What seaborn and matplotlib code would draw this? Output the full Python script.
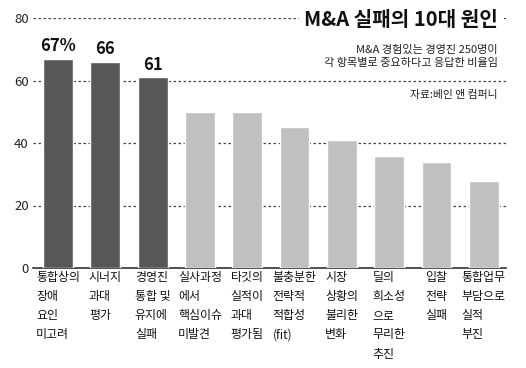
import matplotlib
matplotlib.use("Agg")
import matplotlib.pyplot as plt
import seaborn as sns

categories = [
    "통합상의\n장애\n요인\n미고려",
    "시너지\n과대\n평가",
    "경영진\n통합 및\n유지에\n실패",
    "실사과정\n에서\n핵심이슈\n미발견",
    "타깃의\n실적이\n과대\n평가됨",
    "불충분한\n전략적\n적합성\n(fit)",
    "시장\n상황의\n불리한\n변화",
    "딜의\n희소성\n으로\n무리한\n추진",
    "입찰\n전략\n실패",
    "통합업무\n부담으로\n실적\n부진",
]
values = [67, 66, 61, 50, 50, 45, 41, 36, 34, 28]
top_labels = ["67%", "66", "61"]
yticks = [0, 20, 40, 60, 80]

dark = "#575757"
light = "#c0c0c0"
colors = [dark] * 3 + [light] * 7

sns.set_style("white")
plt.rcParams["font.family"] = ["Noto Sans CJK KR", "DejaVu Sans"]

fig = plt.figure(figsize=(5.26, 3.68), dpi=100)
ax = fig.add_axes([33 / 526, 1 - 268 / 368, (506 - 33) / 526, 250 / 368])

xs = list(range(len(values)))
sns.barplot(x=xs, y=values, hue=xs, palette=colors, legend=False,
            width=0.63, saturation=1, ax=ax, zorder=3)

ax.set_xlim(-0.53, 9.47)
ax.set_ylim(0, 80)
ax.set_yticks(yticks)
ax.set_yticklabels([str(t) for t in yticks], fontsize=9.5, color="#222222")
ax.yaxis.grid(True, linestyle=(0, (2, 2)), color="#444444", linewidth=0.9, zorder=0)
ax.xaxis.grid(False)
ax.set_axisbelow(True)
ax.tick_params(axis="y", length=0, pad=3)
ax.tick_params(axis="x", length=0, pad=2)
ax.set_xticks(xs)
ax.set_xticklabels(categories, fontsize=8.6, ha="center", va="top",
                   multialignment="left", linespacing=1.62, color="#111111")
ax.set_xlabel("")
ax.set_ylabel("")

for s in ["left", "right", "top"]:
    ax.spines[s].set_visible(False)
ax.spines["bottom"].set_color("#333333")
ax.spines["bottom"].set_linewidth(1.2)

for i, lab in enumerate(top_labels):
    ax.text(i, values[i] + 1.2, lab, ha="center", va="bottom",
            fontsize=12, fontweight="bold", color="#111111")

fig.text(498 / 526, 1 - 20 / 368, "M&A 실패의 10대 원인", ha="right", va="center",
         fontsize=14.5, fontweight="bold", color="#111111",
         bbox=dict(facecolor="white", edgecolor="none", pad=4))
fig.text(498 / 526, 1 - 45 / 368,
         "M&A 경험있는 경영진 250명이\n각 항목별로 중요하다고 응답한 비율임",
         ha="right", va="top", fontsize=8, linespacing=1.3, color="#222222",
         multialignment="right")
fig.text(498 / 526, 1 - 95 / 368, "자료:베인 앤 컴퍼니", ha="right", va="center",
         fontsize=7.8, color="#222222")

fig.savefig("out.png", dpi=100)
